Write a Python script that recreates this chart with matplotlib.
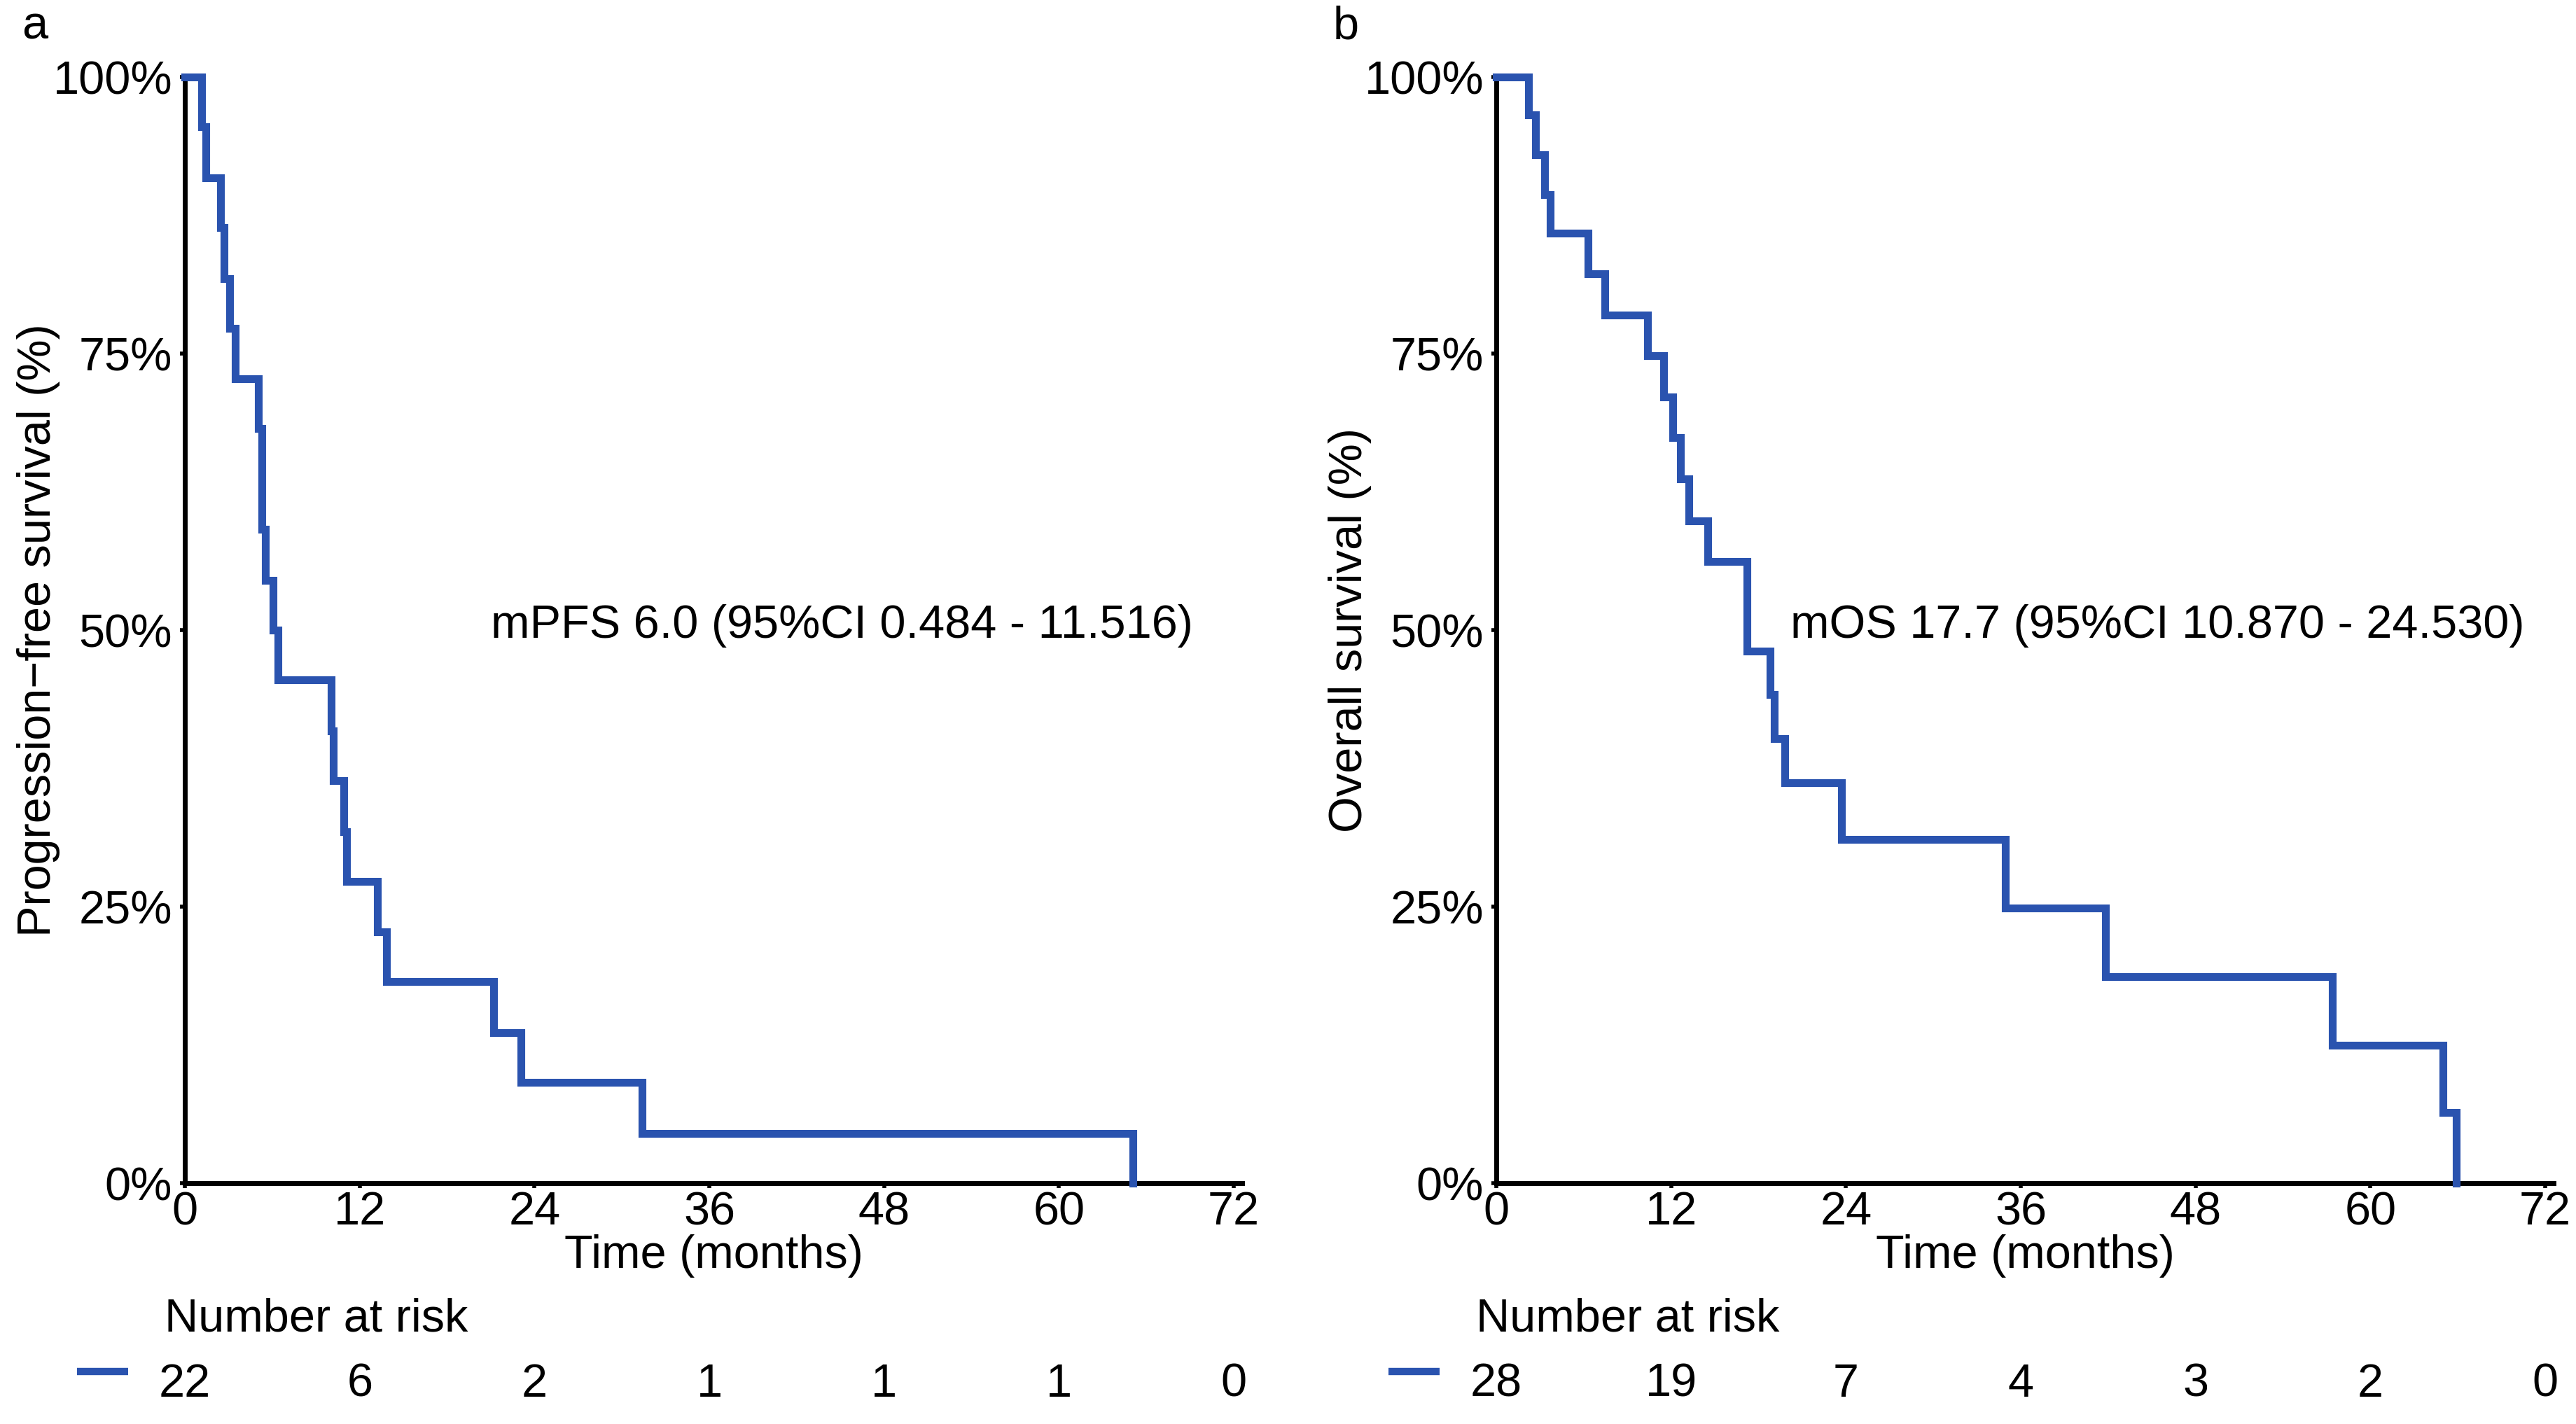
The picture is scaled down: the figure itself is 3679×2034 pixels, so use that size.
import matplotlib
matplotlib.use('Agg')
import matplotlib.pyplot as plt

plt.rcParams['font.family'] = ['Liberation Sans', 'DejaVu Sans']

BLUE = '#2A53AF'

# Kaplan-Meier steps (time in months, survival in %)
pfs_time = [0, 1.15, 1.45, 2.45, 2.7, 3.05, 3.45, 5.05, 5.3, 5.5, 6.05, 6.4,
            10.05, 10.2, 10.9, 11.1, 13.2, 13.85, 21.2, 23.05, 31.4, 65.1]
pfs_surv = [100, 95.5, 90.9, 86.4, 81.8, 77.3, 72.7, 68.2, 59.1, 54.5, 50.0, 45.5,
            40.9, 36.4, 31.8, 27.3, 22.7, 18.2, 13.6, 9.1, 4.5, 0]

os_time = [0, 2.2, 2.7, 3.3, 3.7, 6.3, 7.45, 10.4, 11.5, 12.1, 12.65, 13.2, 14.5,
           17.2, 18.8, 19.1, 19.8, 23.7, 34.95, 41.8, 57.4, 65.0, 65.9]
os_surv = [100, 96.6, 93.0, 89.4, 85.9, 82.2, 78.5, 74.8, 71.1, 67.4, 63.7, 59.9, 56.2,
           48.1, 44.2, 40.2, 36.2, 31.1, 24.9, 18.7, 12.5, 6.4, 0]

risk_times = [0, 12, 24, 36, 48, 60, 72]
pfs_risk = [22, 6, 2, 1, 1, 1, 0]
os_risk = [28, 19, 7, 4, 3, 2, 0]

x_ticks = [0, 12, 24, 36, 48, 60, 72]
y_ticks = [0, 25, 50, 75, 100]
y_ticklabels = ['0%', '25%', '50%', '75%', '100%']

FS = 48

fig = plt.figure(figsize=(36.79, 20.34), dpi=100)
ax_a = fig.add_axes((0.0718, 0.1691, 0.4105, 0.7768))
ax_b = fig.add_axes((0.5809, 0.1691, 0.4105, 0.7768))

panels = [
    (ax_a, pfs_time, pfs_surv, pfs_risk, 'Progression\u2212free survival (%)',
     'mPFS 6.0 (95%CI 0.484 - 11.516)', 21.0, 'a'),
    (ax_b, os_time, os_surv, os_risk, 'Overall survival (%)',
     'mOS 17.7 (95%CI 10.870 - 24.530)', 20.2, 'b'),
]

for ax, t, s, risk, ylab, note, note_x, letter in panels:
    ax.step(t, s, where='post', color=BLUE, lw=8, clip_on=False,
            solid_joinstyle='miter', zorder=3)
    ax.set_xlim(0, 72.6)
    ax.set_ylim(0, 100)
    ax.set_xticks(x_ticks)
    ax.set_yticks(y_ticks)
    ax.set_yticklabels(y_ticklabels)
    ax.tick_params(labelsize=FS, length=5, width=4, color='black')
    ax.tick_params(axis='x', pad=3)
    ax.tick_params(axis='y', pad=8)
    for side in ['top', 'right']:
        ax.spines[side].set_visible(False)
    for side in ['left', 'bottom']:
        ax.spines[side].set_linewidth(5)
    ax.set_xlabel('Time (months)', fontsize=FS, labelpad=0)
    ax.set_ylabel(ylab, fontsize=FS)
    ax.yaxis.set_label_coords(-0.118, 0.5)
    ax.text(note_x, 50.4, note, fontsize=FS, ha='left', va='center')

    # number at risk table below the axis
    tr = ax.get_xaxis_transform()
    ax.text(-1.4, -0.123, 'Number at risk', fontsize=FS, ha='left', va='center',
            transform=tr)
    for rt, n in zip(risk_times, risk):
        ax.text(rt, -0.182, str(n), fontsize=FS, ha='center', va='center',
                transform=tr)
    ax.plot([-7.4, -3.9], [-0.170, -0.170], color=BLUE, lw=7.5, transform=tr,
            clip_on=False, solid_capstyle='butt')

    # panel letter
    ax.text(-0.142, 1.045, letter, fontsize=FS, ha='center', va='center',
            transform=ax.transAxes)

fig.savefig('out.png', dpi=100, facecolor='white')
